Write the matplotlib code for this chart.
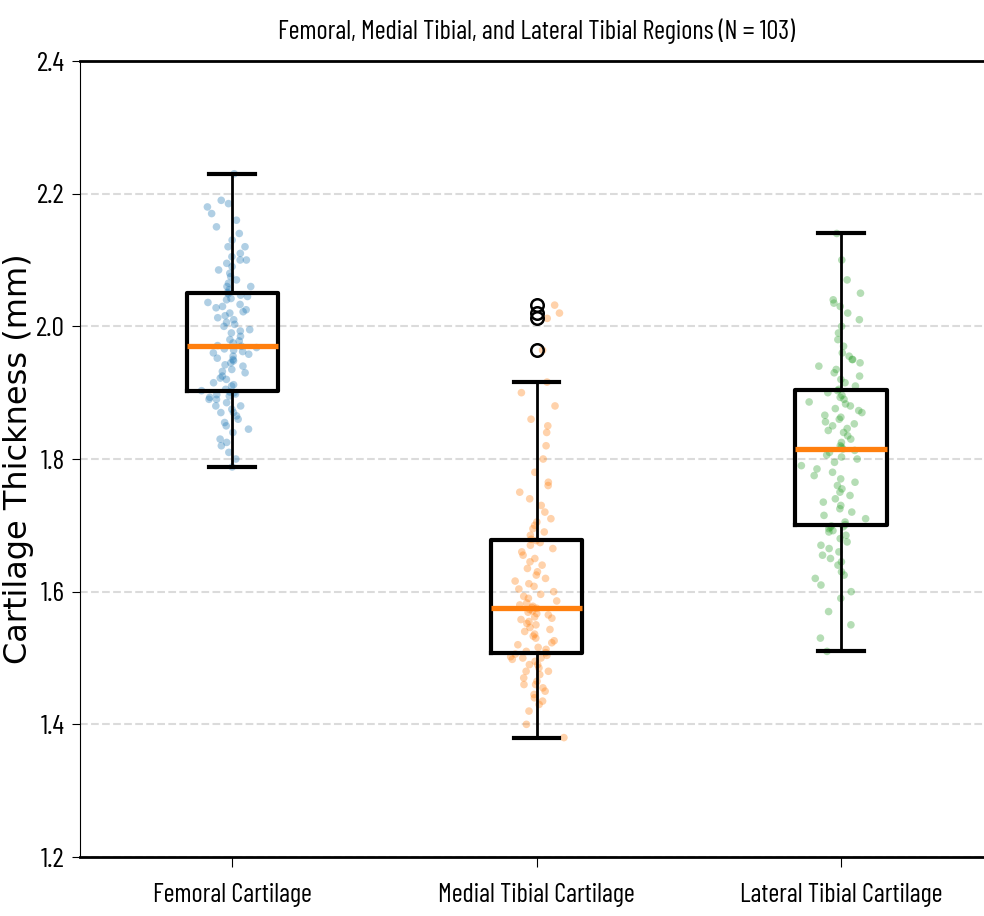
import numpy as np
import matplotlib
matplotlib.use('Agg')
import matplotlib.pyplot as plt

# Cartilage thickness values (mm), N = 103 per region
femoral = [1.788, 1.80, 1.81, 1.82, 1.825, 1.83, 1.84, 1.845, 1.85, 1.855, 1.86, 1.865, 1.87,
           1.87, 1.875, 1.88, 1.88, 1.885, 1.89, 1.89, 1.893, 1.895, 1.897, 1.898, 1.90, 1.901,
           1.903, 1.905, 1.91, 1.912, 1.915, 1.92, 1.922, 1.925, 1.93, 1.932, 1.935, 1.94, 1.942,
           1.945, 1.948, 1.95, 1.952, 1.955, 1.958, 1.96, 1.962, 1.964, 1.966, 1.968, 1.97,
           1.971,
           1.975, 1.978, 1.98, 1.985, 1.99, 1.993, 1.995, 2.0, 2.003, 2.006, 2.01, 2.013, 2.016,
           2.02, 2.022, 2.025, 2.028, 2.03, 2.033, 2.036, 2.04, 2.042, 2.045, 2.047, 2.049,
           2.051, 2.055, 2.06, 2.06, 2.065, 2.07, 2.075, 2.08, 2.085, 2.09, 2.095, 2.10, 2.10,
           2.105, 2.11, 2.12, 2.12, 2.13, 2.14, 2.15, 2.16, 2.17, 2.18, 2.185, 2.19, 2.23]

medial = [1.38, 1.40, 1.42, 1.43, 1.435, 1.44, 1.445, 1.45, 1.455, 1.46, 1.46, 1.465, 1.47,
          1.475, 1.48, 1.48, 1.485, 1.49, 1.49, 1.495, 1.498, 1.50, 1.50, 1.502, 1.504, 1.506,
          1.508, 1.51, 1.513, 1.516, 1.52, 1.523, 1.526, 1.53, 1.533, 1.536, 1.54, 1.543, 1.546,
          1.55, 1.552, 1.555, 1.558, 1.56, 1.562, 1.565, 1.567, 1.569, 1.571, 1.573, 1.575,
          1.576,
          1.578, 1.58, 1.583, 1.586, 1.59, 1.593, 1.596, 1.60, 1.604, 1.608, 1.612, 1.616, 1.62,
          1.625, 1.63, 1.635, 1.64, 1.645, 1.65, 1.655, 1.66, 1.665, 1.67, 1.674, 1.677,
          1.679, 1.685, 1.69, 1.695, 1.70, 1.705, 1.71, 1.72, 1.73, 1.74, 1.75, 1.76, 1.765,
          1.78, 1.80, 1.82, 1.84, 1.85, 1.86, 1.88, 1.90, 1.916, 1.964, 2.012, 2.02, 2.032]

lateral = [1.51, 1.53, 1.55, 1.57, 1.59, 1.60, 1.61, 1.62, 1.625, 1.63, 1.64, 1.645, 1.65,
           1.655, 1.66, 1.665, 1.67, 1.675, 1.68, 1.685, 1.69, 1.692, 1.695, 1.697, 1.698, 1.699,
           1.701, 1.705, 1.71, 1.715, 1.72, 1.725, 1.73, 1.735, 1.74, 1.745, 1.75, 1.755, 1.76,
           1.765, 1.77, 1.775, 1.78, 1.785, 1.79, 1.795, 1.80, 1.803, 1.806, 1.81, 1.813,
           1.815,
           1.818, 1.82, 1.825, 1.83, 1.835, 1.84, 1.843, 1.846, 1.85, 1.853, 1.856, 1.86, 1.863,
           1.866, 1.87, 1.873, 1.876, 1.88, 1.883, 1.886, 1.89, 1.893, 1.896, 1.90, 1.903,
           1.905, 1.91, 1.915, 1.92, 1.925, 1.93, 1.935, 1.94, 1.945, 1.95, 1.95, 1.955, 1.96,
           1.97, 1.98, 1.99, 2.0, 2.01, 2.02, 2.03, 2.035, 2.04, 2.05, 2.07, 2.10, 2.14]

labels = ['Femoral Cartilage', 'Medial Tibial Cartilage', 'Lateral Tibial Cartilage']
colors = ['tab:blue', 'tab:orange', 'tab:green']
yticks = [1.2, 1.4, 1.6, 1.8, 2.0, 2.2, 2.4]

narrow = ['Barlow Condensed', 'DejaVu Sans']

fig = plt.figure(figsize=(9.84, 9.16), dpi=100)
ax = fig.add_axes([0.0813, 0.0644, 0.928, 0.869])

data = [femoral, medial, lateral]

# jittered points behind the boxes
rng = np.random.default_rng(7)
for i, vals in enumerate(data):
    x = rng.normal(i + 1, 0.04, len(vals))
    ax.scatter(x, vals, s=30, color=colors[i], alpha=0.35, edgecolors='none', zorder=1)

ax.boxplot(data, positions=[1, 2, 3], widths=0.3,
           boxprops=dict(color='black', linewidth=3),
           whiskerprops=dict(color='black', linewidth=2),
           capprops=dict(color='black', linewidth=3),
           medianprops=dict(color='tab:orange', linewidth=3.8),
           flierprops=dict(marker='o', markerfacecolor='none', markeredgecolor='black',
                           markersize=9, markeredgewidth=1.8))

ax.set_xlim(0.5, 3.5)
ax.set_ylim(1.2, 2.4)
ax.set_xticks([1, 2, 3])
ax.set_xticklabels(labels, family=narrow, fontsize=19)
ax.set_yticks(yticks)
ax.set_yticklabels([f'{v:.1f}' for v in yticks], family=narrow, fontsize=20)
ax.tick_params(axis='x', length=7, pad=12)
ax.tick_params(axis='y', length=6, pad=5)

ax.yaxis.grid(True, linestyle='--', color='lightgray', linewidth=1.5, alpha=0.8)
ax.set_axisbelow(True)

ax.spines['top'].set_linewidth(2)
ax.spines['bottom'].set_linewidth(2)
ax.spines['left'].set_linewidth(0.8)

ax.set_ylabel('Cartilage Thickness (mm)', family='DejaVu Sans', fontsize=23)
ax.yaxis.set_label_coords(-0.05, 0.5)
ax.set_title('Femoral, Medial Tibial, and Lateral Tibial Regions (N = 103)',
             family=narrow, fontsize=19, pad=16)

fig.savefig('out.png', dpi=100)
plt.close('all')
